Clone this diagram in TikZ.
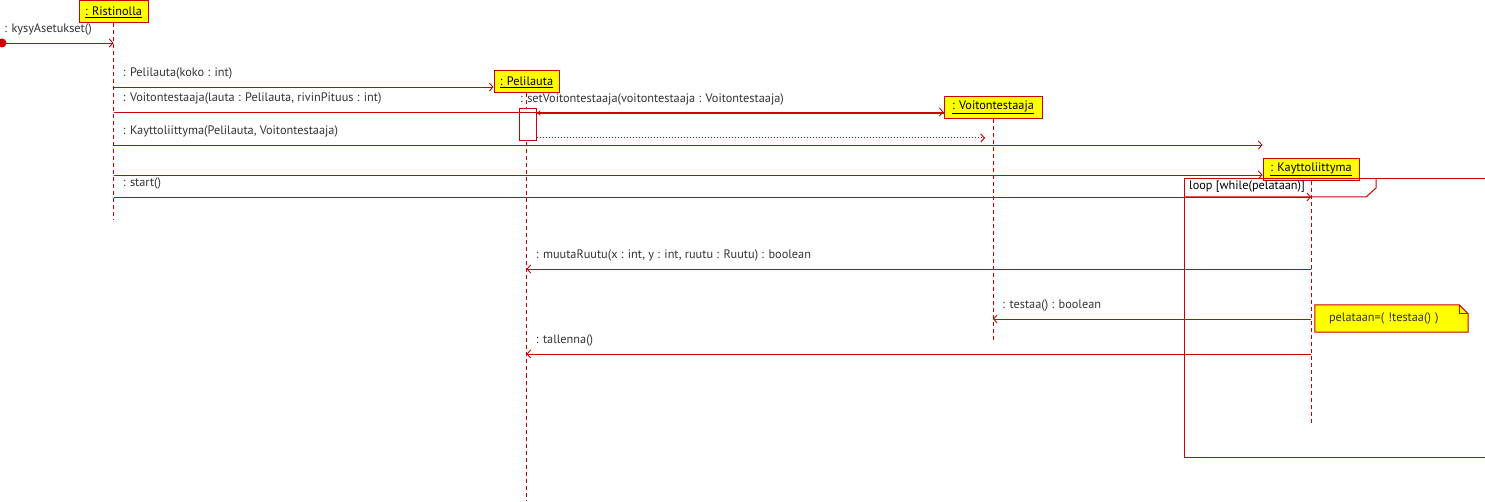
\documentclass[tikz,border=0pt]{standalone}
\usepackage{fontspec}
\setmainfont{PT Sans}
\usetikzlibrary{arrows.meta,calc,positioning,backgrounds}

\definecolor{umlpuna}{RGB}{204,0,0}
\definecolor{umlteksti}{RGB}{51,51,51}
\definecolor{umlkelta}{RGB}{255,255,0}

\tikzset{
  olio/.style={draw=umlpuna, fill=umlkelta, line width=1pt, minimum height=22pt,
    inner xsep=2pt, font=\fontsize{12.3}{14}\selectfont},
  elama/.style={umlpuna, line width=1pt, dash pattern=on 4pt off 3pt},
  viesti/.style={umlpuna, line width=0.9pt, -{Straight Barb[length=3.5pt,width=8pt]}},
  teksti/.style={anchor=base west, inner sep=0pt, text=umlteksti,
    font=\fontsize{12.3}{14}\selectfont},
  nimi/.style={teksti, xshift=9pt, yshift=10pt},
}

\begin{document}
\begin{tikzpicture}[x=1pt,y=-1pt]

		\useasboundingbox (0,0) rectangle (1485,502);

		% oliot
		\node[olio, minimum width=69pt] (ristinolla) at (113.5,12) {\underline{: Ristinolla}};
		\node[olio, minimum width=65pt] (pelilauta) at (526.5,82) {\underline{: Pelilauta}};
		\node[olio, minimum width=98pt] (voitontestaaja) at (993,107.5) {\underline{: Voitontestaaja}};
		\node[olio, minimum width=96pt] (kayttoliittyma) at (1311,169.5) {\underline{: Kayttoliittyma}};

		% elamanviivat
		\draw[elama] (ristinolla.south) -- (ristinolla |- 0,220);
		\draw[elama] (pelilauta.south) -- (pelilauta |- 0,500);
		\draw[elama] (voitontestaaja.south) -- (voitontestaaja |- 0,343);
		\draw[elama] (kayttoliittyma.south) -- (kayttoliittyma |- 0,425);

		% aktivointi
		\node[draw=umlpuna, line width=1pt, fill=white, minimum width=17pt, minimum height=32pt,
		  inner sep=0pt] (aktivointi) at (527.5,125) {};

		% silmukka
		\draw[umlpuna, line width=1pt] (1485,179) -- (1184,179) -- (1184,457) -- (1485,457);
		\draw[umlpuna, line width=1pt] (1184,197) -- (1366,197) -- (1376,188) -- (1376,179);
		\node[teksti, text=black] (silmukka) at (1189,190) {loop [while(pelataan)]};

		% viestit
		\coordinate (alku) at (2,43);
		\fill[umlpuna] (alku) circle (4.5);
		\draw[viesti] (alku) -- (ristinolla |- alku)
		  node[pos=0, nimi, xshift=-7pt] {: kysyAsetukset()};

		\draw[viesti] (ristinolla |- 0,87) -- (pelilauta.west |- 0,87)
		  node[pos=0, nimi] {: Pelilauta(koko : int)};
		\draw[viesti] (ristinolla |- 0,112) -- (voitontestaaja.west |- 0,112)
		  node[pos=0, nimi] {: Voitontestaaja(lauta : Pelilauta, rivinPituus : int)};
		\draw[umlpuna, line width=2pt, -{Stealth[length=4pt,width=5pt]}] (voitontestaaja.west |- 0,113)
		  -- (aktivointi.east |- 0,113);
		\node[teksti] (setlabel) at (520,103) {: setVoitontestaaja(voitontestaaja : Voitontestaaja)};
		\draw[umlpuna, line width=1pt, dash pattern=on 1pt off 2pt,
		  -{Straight Barb[length=3.5pt,width=8pt]}]
		  (aktivointi.east |- 0,138) -- ($(voitontestaaja |- 0,138)+(-8,0)$);

		\draw[viesti] (ristinolla |- 0,145) -- (kayttoliittyma.west |- 0,145)
		  node[pos=0, nimi] {: Kayttoliittyma(Pelilauta, Voitontestaaja)};
		\draw[viesti] (ristinolla |- 0,175) -- (kayttoliittyma.west |- 0,175);
		\draw[viesti] (ristinolla |- 0,197) -- (kayttoliittyma |- 0,197)
		  node[pos=0, nimi] {: start()};

		\draw[viesti] (kayttoliittyma |- 0,269) -- (pelilauta |- 0,269)
		  node[pos=1, nimi] {: muutaRuutu(x : int, y : int, ruutu : Ruutu) : boolean};
		\draw[viesti] (kayttoliittyma |- 0,319) -- (voitontestaaja |- 0,319)
		  node[pos=1, nimi] {: testaa() : boolean};
		\draw[viesti] (kayttoliittyma |- 0,354) -- (pelilauta |- 0,354)
		  node[pos=1, nimi] {: tallenna()};

		% huomio
		\node[minimum height=27pt, inner xsep=14pt, inner ysep=0pt, text width=125pt, align=left,
		  text=umlteksti, font=\fontsize{12.3}{14}\selectfont] (huomio) at (1391.5,318.5)
		  {pelataan=( !testaa() )};
		\begin{scope}[on background layer]
		\draw[umlpuna, fill=umlkelta, line width=1pt] (huomio.south west) -- (huomio.north west)
		  -- ($(huomio.north east)+(-9,0)$) -- ($(huomio.north east)+(0,9)$) -- (huomio.south east) -- cycle;
		\draw[umlpuna, line width=1pt] ($(huomio.north east)+(-9,0)$) -- ($(huomio.north east)+(-9,9)$)
		  -- ($(huomio.north east)+(0,9)$);
		\end{scope}

\end{tikzpicture}
\end{document}
